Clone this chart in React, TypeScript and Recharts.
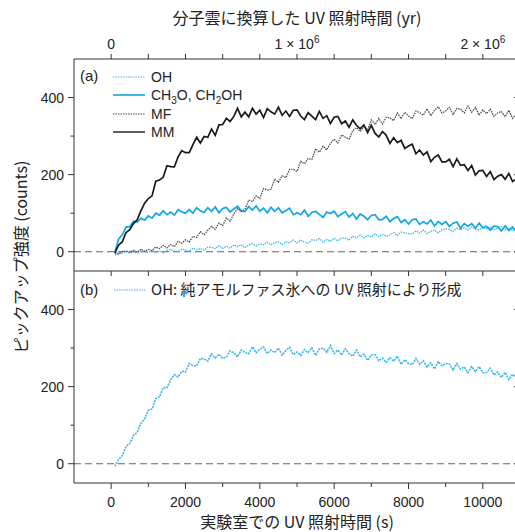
import React from 'react';
import { LineChart, Line, XAxis, YAxis, ReferenceLine } from 'recharts';

// Laboratory UV irradiation time (s), sampled every 100 s
const TIME_S: number[] = Array.from({ length: 110 }, (_, i) => (i + 1) * 100);

// Panel (a)
const MM: number[] = [
  -3, 17, 26, 50, 57, 73, 83, 106, 126, 138,
  145, 183, 186, 193, 223, 221, 220, 246, 262, 257,
  257, 278, 297, 282, 299, 297, 318, 302, 329, 330,
  346, 338, 351, 372, 350, 362, 350, 372, 357, 367,
  348, 371, 363, 357, 375, 354, 365, 351, 367, 368,
  352, 343, 361, 352, 343, 364, 346, 353, 333, 349,
  351, 332, 339, 323, 342, 328, 319, 329, 309, 328,
  307, 298, 312, 302, 281, 296, 283, 289, 268, 274,
  279, 254, 264, 251, 259, 234, 245, 251, 233, 233,
  240, 221, 241, 224, 226, 211, 224, 199, 210, 211,
  195, 208, 187, 196, 200, 188, 203, 182, 189, 193,
];
const MF: number[] = [
  -3, -6, 1, 1, -1, 4, -1, 7, 1, 6,
  3, 12, 8, 17, 10, 19, 13, 27, 22, 31,
  25, 40, 37, 52, 44, 56, 66, 58, 74, 68,
  88, 79, 98, 112, 105, 110, 134, 130, 145, 138,
  164, 160, 162, 189, 180, 197, 192, 214, 214, 208,
  235, 228, 242, 239, 267, 258, 274, 264, 282, 292,
  282, 303, 297, 292, 314, 322, 312, 324, 317, 342,
  330, 346, 331, 349, 347, 340, 360, 345, 362, 352,
  345, 365, 361, 354, 371, 353, 367, 376, 360, 365,
  375, 356, 372, 370, 360, 378, 362, 374, 354, 368,
  358, 370, 351, 360, 364, 350, 367, 346, 358, 352,
];
const CH3O: number[] = [
  -2, 33, 44, 64, 65, 79, 77, 87, 82, 93,
  87, 100, 95, 106, 96, 103, 95, 109, 104, 100,
  109, 100, 114, 106, 102, 114, 105, 116, 101, 112,
  115, 103, 111, 118, 106, 104, 117, 108, 119, 105,
  113, 101, 115, 105, 114, 101, 107, 113, 96, 101,
  96, 108, 92, 102, 105, 97, 89, 103, 99, 105,
  91, 98, 104, 90, 99, 85, 98, 92, 83, 94,
  96, 83, 84, 92, 78, 86, 91, 76, 83, 72,
  83, 85, 71, 78, 72, 82, 67, 78, 71, 78,
  66, 74, 77, 61, 73, 66, 73, 61, 74, 62,
  66, 56, 67, 65, 54, 67, 55, 64, 52, 59,
];
const OH_A: number[] = [
  -9, -2, -4, 1, -4, 0, -4, 2, 0, -2,
  3, -2, 2, -3, 3, 6, 1, 0, 6, 5,
  1, 9, 5, 9, 4, 12, 11, 8, 16, 9,
  14, 9, 18, 13, 18, 10, 18, 21, 15, 20,
  18, 25, 18, 23, 26, 19, 26, 23, 30, 23,
  30, 25, 22, 31, 29, 34, 25, 32, 27, 35,
  28, 36, 35, 30, 40, 36, 43, 36, 42, 38,
  46, 39, 45, 40, 44, 50, 42, 51, 49, 47,
  46, 54, 48, 56, 47, 53, 56, 49, 57, 59,
  58, 52, 61, 57, 62, 56, 65, 58, 57, 64,
  59, 65, 56, 62, 65, 57, 61, 55, 63, 59,
];
// Panel (b)
const OH_B: number[] = [
  -7, 11, 21, 45, 52, 74, 81, 105, 116, 139,
  142, 169, 174, 197, 197, 218, 231, 225, 240, 238,
  260, 254, 254, 273, 272, 266, 285, 274, 284, 273,
  277, 293, 288, 277, 295, 288, 285, 303, 288, 297,
  303, 286, 295, 288, 300, 282, 294, 302, 283, 290,
  281, 296, 288, 301, 281, 298, 300, 289, 307, 286,
  295, 282, 298, 286, 279, 295, 277, 284, 268, 282,
  283, 267, 274, 263, 275, 266, 279, 258, 270, 260,
  257, 273, 258, 267, 251, 262, 246, 265, 254, 260,
  259, 243, 260, 245, 251, 236, 252, 239, 252, 236,
  237, 248, 230, 238, 224, 237, 218, 232, 223, 233,
];

const X_TICKS = [0, 1000, 2000, 3000, 4000, 5000, 6000, 7000, 8000, 9000, 10000];
const X_LABELS_S: Record<number, string> = { 0: '0', 2000: '2000', 4000: '4000', 6000: '6000', 8000: '8000', 10000: '10000' };
const X_LABELS_YR: Record<number, [string, string]> = { 0: ['0', ''], 5000: ['1 × 10', '6'], 10000: ['2 × 10', '6'] };
const Y_TICKS = [0, 100, 200, 300, 400];
const Y_LABELS: Record<number, string> = { 0: '0', 200: '200', 400: '400' };

const dataA = TIME_S.map((t, i) => ({ t, oh: OH_A[i], ch3o: CH3O[i], mf: MF[i], mm: MM[i] }));
const dataB = TIME_S.map((t, i) => ({ t, oh: OH_B[i] }));

const AXIS = '#333';
const TEXT = '#222';
const CYAN = '#12a6e2';
const CYAN_LIGHT = '#3cb6ea';
const FONT = '"Liberation Sans", Arial, "Noto Sans CJK JP", sans-serif';
const JFONT = '"Noto Sans CJK JP", "Liberation Sans", sans-serif';

const LeftTick = (p: any) => {
  const v = p.payload.value;
  const lab = Y_LABELS[v];
  return (
    <g>
      <line x1={p.x} x2={p.x - (lab ? 6 : 3.5)} y1={p.y} y2={p.y} stroke={AXIS} />
      {lab && (
        <text x={p.x - 10} y={p.y} dy="0.36em" textAnchor="end" fontSize={14} fill={TEXT} fontFamily={FONT}>
          {lab}
        </text>
      )}
    </g>
  );
};
const RightTick = (p: any) => {
  const v = p.payload.value;
  const lab = Y_LABELS[v];
  return <line x1={p.x} x2={p.x - (lab ? 6 : 3.5)} y1={p.y} y2={p.y} stroke={AXIS} />;
};
const TopTick = (p: any) => {
  const v = p.payload.value;
  const lab = X_LABELS_YR[v];
  return (
    <g>
      <line x1={p.x} x2={p.x} y1={p.y} y2={p.y - 5} stroke={AXIS} />
      {lab && (
        <text x={p.x} y={p.y - 10} textAnchor="middle" fontSize={14} fill={TEXT} fontFamily={FONT}>
          {lab[0]}
          {lab[1] && (
            <tspan dy={-6} fontSize={10}>
              {lab[1]}
            </tspan>
          )}
        </text>
      )}
    </g>
  );
};
const MidTick = (p: any) => <line x1={p.x} x2={p.x} y1={p.y} y2={p.y + 5} stroke={AXIS} />;
const BottomTick = (p: any) => {
  const v = p.payload.value;
  const lab = X_LABELS_S[v];
  return (
    <g>
      <line x1={p.x} x2={p.x} y1={p.y} y2={p.y + (lab ? 6 : 4)} stroke={AXIS} />
      {lab && (
        <text x={p.x} y={p.y + 24} textAnchor="middle" fontSize={14} fill={TEXT} fontFamily={FONT}>
          {lab}
        </text>
      )}
    </g>
  );
};

const CHART_W = 540;
const PLOT_H = 212;

const commonX = {
  dataKey: 't',
  type: 'number' as const,
  domain: [-1000, 11000],
  ticks: X_TICKS,
  interval: 0 as const,
  allowDataOverflow: true,
  tickSize: 0,
  tickMargin: 0,
  tickLine: false,
  axisLine: { stroke: AXIS },
};
const commonY = {
  type: 'number' as const,
  domain: [-50, 500],
  ticks: Y_TICKS,
  interval: 0 as const,
  allowDataOverflow: true,
  tickSize: 0,
  tickMargin: 0,
  tickLine: false,
  axisLine: { stroke: AXIS },
};

export default function App() {
  return (
    <div
      style={{
        position: 'fixed',
        left: 0,
        top: 0,
        width: 515,
        height: 532,
        overflow: 'hidden',
        background: '#fff',
        fontFamily: FONT,
      }}
    >
      <div style={{ position: 'absolute', left: 0, top: 0 }}>
        <LineChart width={CHART_W} height={29 + 30 + PLOT_H + 6} data={dataA} margin={{ top: 29, right: 10, bottom: 0, left: 24 }}>
          <XAxis
            {...commonX}
            xAxisId="top"
            orientation="top"
            height={30}
            tick={<TopTick />}
            label={{
              value: '分子雲に換算した UV 照射時間 (yr)',
              position: 'top',
              offset: 5,
              fontSize: 16,
              fill: TEXT,
              fontFamily: JFONT,
            }}
          />
          <XAxis {...commonX} xAxisId="bot" orientation="bottom" height={6} tick={<MidTick />} />
          <YAxis {...commonY} yAxisId="l" orientation="left" width={50} tick={<LeftTick />} />
          <YAxis {...commonY} yAxisId="r" orientation="right" width={10} tick={<RightTick />} />
          <ReferenceLine xAxisId="bot" yAxisId="l" y={0} stroke="#666" strokeWidth={1.2} strokeDasharray="7 4" />
          <Line xAxisId="bot" yAxisId="l" dataKey="oh" stroke={CYAN_LIGHT} strokeWidth={1.3} strokeDasharray="1.5 1" dot={false} isAnimationActive={false} />
          <Line xAxisId="bot" yAxisId="l" dataKey="ch3o" stroke={CYAN} strokeWidth={1.7} dot={false} isAnimationActive={false} />
          <Line xAxisId="bot" yAxisId="l" dataKey="mf" stroke="#444" strokeWidth={1.2} strokeDasharray="1.5 1" dot={false} isAnimationActive={false} />
          <Line xAxisId="bot" yAxisId="l" dataKey="mm" stroke="#1a1a1a" strokeWidth={1.7} dot={false} isAnimationActive={false} />
        </LineChart>
      </div>
      <div style={{ position: 'absolute', left: 0, top: 266 }}>
        <LineChart width={CHART_W} height={5 + PLOT_H + 50} data={dataB} margin={{ top: 5, right: 10, bottom: 0, left: 24 }}>
          <XAxis
            {...commonX}
            xAxisId="bot"
            orientation="bottom"
            height={50}
            tick={<BottomTick />}
            label={{
              value: '実験室での UV 照射時間 (s)',
              position: 'insideBottom',
              offset: 5,
              fontSize: 16,
              fill: TEXT,
              fontFamily: JFONT,
            }}
          />
          <YAxis {...commonY} yAxisId="l" orientation="left" width={50} tick={<LeftTick />} />
          <YAxis {...commonY} yAxisId="r" orientation="right" width={10} tick={<RightTick />} />
          <ReferenceLine xAxisId="bot" yAxisId="l" y={0} stroke="#666" strokeWidth={1.2} strokeDasharray="7 4" />
          <Line xAxisId="bot" yAxisId="l" dataKey="oh" stroke={CYAN_LIGHT} strokeWidth={1.6} strokeDasharray="2 1" dot={false} isAnimationActive={false} />
        </LineChart>
      </div>
      <svg width={515} height={532} style={{ position: 'absolute', left: 0, top: 0, pointerEvents: 'none' }}>
        <text
          x={20}
          y={257}
          transform="rotate(-90 20 257)"
          textAnchor="middle"
          dominantBaseline="central"
          fontSize={16}
          fill={TEXT}
          fontFamily={JFONT}
        >
          ピックアップ強度 (counts)
        </text>
        <g fontFamily={FONT} fontSize={14} fill={TEXT}>
          <text x={80} y={81} fontSize={15}>(a)</text>
          <line x1={113} x2={145} y1={77} y2={77} stroke={CYAN_LIGHT} strokeDasharray="1.5 1" />
          <text x={151} y={82}>OH</text>
          <line x1={113} x2={145} y1={95} y2={95} stroke={CYAN} strokeWidth={1.6} />
          <text x={151} y={100}>
            CH<tspan dy={4} fontSize={10}>3</tspan>
            <tspan dy={-4}>O, CH</tspan>
            <tspan dy={4} fontSize={10}>2</tspan>
            <tspan dy={-4}>OH</tspan>
          </text>
          <line x1={113} x2={145} y1={114} y2={114} stroke="#444" strokeDasharray="1.5 1" />
          <text x={151} y={119}>MF</text>
          <line x1={113} x2={145} y1={132} y2={132} stroke="#1a1a1a" strokeWidth={1.4} />
          <text x={151} y={137}>MM</text>
          <text x={80} y={295} fontSize={15}>(b)</text>
          <line x1={114} x2={146} y1={290} y2={290} stroke={CYAN_LIGHT} strokeDasharray="1.5 1" />
          <text x={151} y={295} fontSize={15} fontFamily={JFONT}>OH: 純アモルファス氷への UV 照射により形成</text>
        </g>
      </svg>
    </div>
  );
}
